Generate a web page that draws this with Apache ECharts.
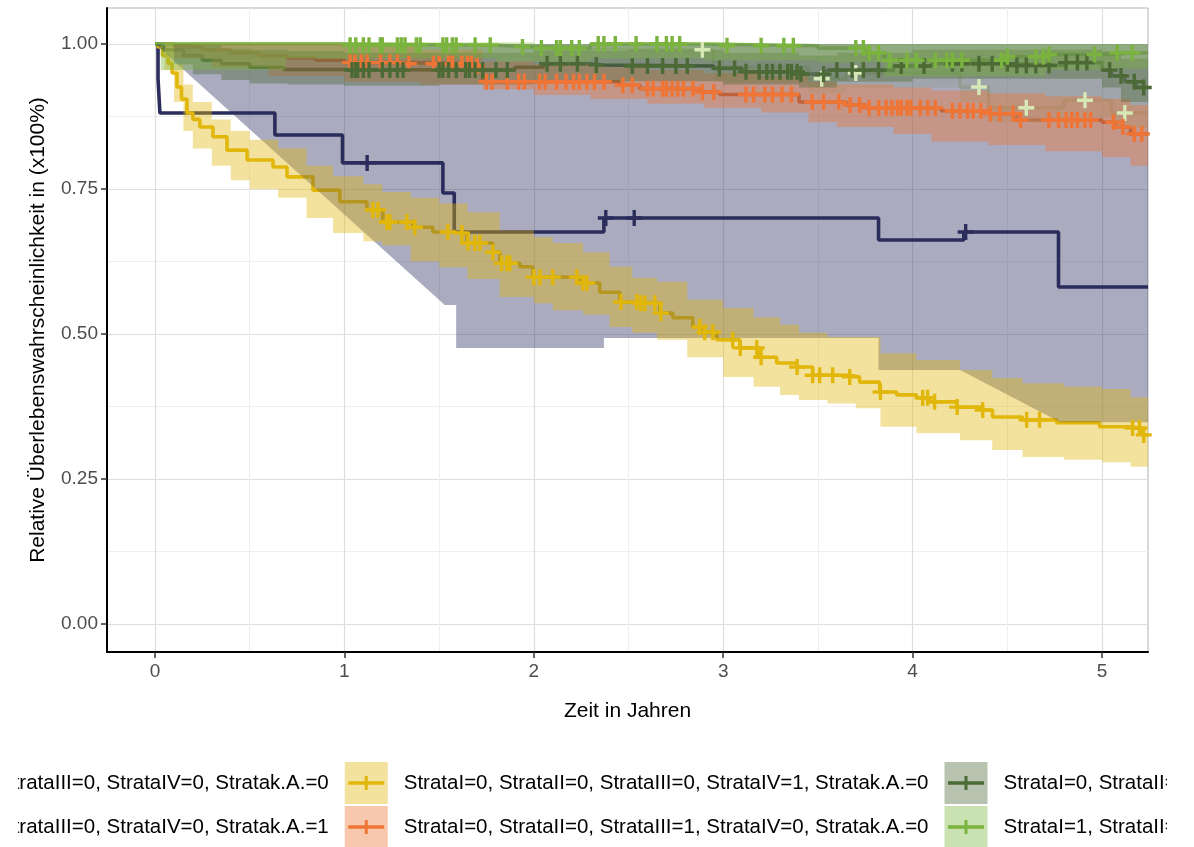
<!DOCTYPE html>
<html>
<head>
<meta charset="utf-8">
<script src="https://cdn.jsdelivr.net/npm/echarts/dist/echarts.min.js"></script>
<style>
  html, body { margin: 0; padding: 0; background: #ffffff; }
  #chart { width: 1194px; height: 847px; }
</style>
</head>
<body>
<div id="chart"></div>
<script>
// ---------- Stratum labels ----------
const strataNames = [
  'StrataI=0, StrataII=0, StrataIII=0, StrataIV=0, Stratak.A.=0',
  'StrataI=0, StrataII=0, StrataIII=0, StrataIV=0, Stratak.A.=1',
  'StrataI=0, StrataII=0, StrataIII=0, StrataIV=1, Stratak.A.=0',
  'StrataI=0, StrataII=0, StrataIII=1, StrataIV=0, Stratak.A.=0',
  'StrataI=0, StrataII=1, StrataIII=0, StrataIV=0, Stratak.A.=0',
  'StrataI=1, StrataII=0, StrataIII=0, StrataIV=0, Stratak.A.=0'
];
const strataColors = ['#d5e8b6', '#2b2d5c', '#e2b70c', '#ee7535', '#4c6a35', '#7bb33f'];

// ---------- Axis ticks ----------
const xTickValues = [0, 1, 2, 3, 4, 5];
const yTickLabels = ['0.00', '0.25', '0.50', '0.75', '1.00'];
const T_END = 5.2426;

// ---------- Survival curves (time in years, survival probability) ----------
const paleT = [0, 2.0, 2.95, 3.45, 3.65, 4.25, 4.4, 4.8, 5.05, T_END];
const paleS = [1.0, 0.99, 0.96, 0.94, 0.95, 0.926, 0.89, 0.903, 0.881, 0.881];
const paleCensor = [2.89, 3.52, 3.70, 4.35, 4.60, 4.91, 5.12];

const navyT = [0, 0.016, 0.026, 0.633, 0.99, 1.52, 1.58, 2.37, 3.82, 4.27, 4.77, T_END];
const navyS = [1.0, 0.94, 0.881, 0.843, 0.795, 0.743, 0.676, 0.70, 0.662, 0.676, 0.581, 0.581];
const navyCensor = [1.12, 2.38, 2.53, 4.28];

const yellowT = [0, 0.016, 0.04, 0.069, 0.09, 0.116, 0.14, 0.169, 0.2, 0.237, 0.306, 0.380, 0.486, 0.623, 0.697,
  0.834, 0.976, 1.119, 1.203, 1.361, 1.467, 1.557, 1.646, 1.784, 1.821, 1.926, 1.995, 2.243, 2.348, 2.454,
  2.559, 2.665, 2.734, 2.839, 2.892, 2.966, 3.087, 3.193, 3.282, 3.388, 3.472, 3.668, 3.720, 3.826, 3.916,
  4.021, 4.090, 4.232, 4.369, 4.422, 4.580, 4.760, 4.987, 5.145, 5.214, T_END];
const yellowS = [1.0, 0.995, 0.98, 0.967, 0.95, 0.926, 0.905, 0.881, 0.87, 0.857, 0.840, 0.817, 0.800, 0.788, 0.771,
  0.748, 0.728, 0.714, 0.693, 0.684, 0.676, 0.674, 0.657, 0.641, 0.622, 0.616, 0.598, 0.588, 0.572, 0.555,
  0.553, 0.536, 0.528, 0.512, 0.503, 0.490, 0.476, 0.460, 0.450, 0.443, 0.429, 0.426, 0.417, 0.400, 0.395,
  0.390, 0.383, 0.374, 0.369, 0.357, 0.352, 0.347, 0.340, 0.338, 0.326, 0.326];
const yellowCensor = [1.150, 1.177, 1.224, 1.240, 1.330, 1.372, 1.546, 1.620, 1.652, 1.689, 1.715, 1.784,
  1.830, 1.858, 1.873, 2.000, 2.032, 2.100, 2.227, 2.259, 2.280, 2.460, 2.544, 2.565, 2.586, 2.639, 2.670,
  2.876, 2.902, 2.945, 3.050, 3.090, 3.177, 3.200, 3.390, 3.472, 3.509, 3.578, 3.668, 3.830, 4.053, 4.079,
  4.116, 4.235, 4.370, 4.602, 4.670, 5.161, 5.198, 5.220];

const orangeT = [0, 0.1, 0.25, 0.4, 0.55, 0.7, 0.85, 1.0, 1.3, 1.7, 1.73, 2.45, 2.56, 2.88, 2.98, 3.4, 3.65,
  3.75, 4.15, 4.4, 4.55, 5.0, 5.07, 5.15, T_END];
const orangeS = [1.0, 0.995, 0.99, 0.985, 0.98, 0.976, 0.972, 0.968, 0.966, 0.962, 0.935, 0.929, 0.923, 0.917,
  0.913, 0.9, 0.895, 0.89, 0.885, 0.88, 0.869, 0.865, 0.857, 0.845, 0.845];
const orangeCensor = [1.03, 1.055, 1.09, 1.12, 1.19, 1.24, 1.28, 1.34, 1.47, 1.5, 1.55, 1.57, 1.62, 1.65, 1.67,
  1.70, 1.75, 1.78, 1.86, 1.92, 1.95, 2.03, 2.06, 2.12, 2.17, 2.21, 2.24, 2.28, 2.32, 2.37, 2.47, 2.52, 2.60,
  2.63, 2.68, 2.70, 2.73, 2.76, 2.79, 2.84, 2.89, 2.95, 3.12, 3.16, 3.22, 3.26, 3.31, 3.36, 3.47, 3.53, 3.61,
  3.67, 3.72, 3.77, 3.82, 3.86, 3.89, 3.92, 3.94, 3.97, 3.99, 4.04, 4.08, 4.12, 4.21, 4.25, 4.29, 4.32, 4.36,
  4.41, 4.46, 4.53, 4.57, 4.72, 4.77, 4.81, 4.84, 4.87, 4.91, 4.94, 5.06, 5.11, 5.17, 5.21];

const darkGreenT = [0, 0.05, 0.15, 0.25, 0.35, 0.5, 0.68, 1.0, 1.9, 2.05, 2.3, 2.35, 2.95, 3.1, 3.4, 3.55, 3.9,
  4.1, 4.55, 4.8, 5.0, 5.05, 5.12, 5.18, T_END];
const darkGreenS = [1.0, 0.99, 0.98, 0.972, 0.966, 0.96, 0.956, 0.955, 0.96, 0.966, 0.964, 0.962, 0.958, 0.952,
  0.948, 0.955, 0.962, 0.966, 0.963, 0.968, 0.955, 0.945, 0.935, 0.925, 0.925];
const darkGreenCensor = [1.04, 1.06, 1.07, 1.10, 1.13, 1.20, 1.24, 1.28, 1.31, 1.50, 1.52, 1.55, 1.59, 1.64,
  1.66, 1.69, 1.73, 1.80, 1.86, 2.07, 2.14, 2.23, 2.33, 2.52, 2.60, 2.68, 2.75, 2.81, 2.98, 3.06, 3.12, 3.19,
  3.23, 3.26, 3.30, 3.34, 3.36, 3.39, 3.41, 3.53, 3.60, 3.68, 3.74, 3.82, 3.94, 4.06, 4.21, 4.26, 4.35, 4.42,
  4.50, 4.55, 4.60, 4.65, 4.72, 4.81, 4.87, 4.92, 5.04, 5.10, 5.17, 5.22];

const lightGreenT = [0, 1.0, 1.8, 2.0, 2.3, 2.9, 3.5, 3.75, 3.85, 4.35, 4.5, 4.7, 5.0, T_END];
const lightGreenS = [1.0, 0.998, 0.995, 0.993, 1.0, 0.997, 0.993, 0.985, 0.972, 0.972, 0.978, 0.982, 0.985, 0.985];
const lightGreenCensor = [1.03, 1.06, 1.10, 1.13, 1.19, 1.20, 1.28, 1.30, 1.32, 1.38, 1.40, 1.52, 1.54, 1.57,
  1.59, 1.69, 1.77, 1.94, 2.04, 2.12, 2.14, 2.20, 2.24, 2.34, 2.37, 2.43, 2.54, 2.65, 2.70, 2.73, 2.77, 3.02,
  3.20, 3.32, 3.37, 3.70, 3.74, 3.77, 3.82, 3.88, 3.97, 4.02, 4.12, 4.18, 4.21, 4.26, 4.47, 4.50, 4.65, 4.69,
  4.72, 4.96, 5.08, 5.16];

// ---------- Confidence bands (time, lower, upper) ----------
const paleBandT = [0, 0.05, 2.0, 2.95, 3.45, 3.65, 4.25, 4.4, 4.8, 5.05, T_END];
const paleLo = [1.0, 0.975, 0.965, 0.935, 0.915, 0.925, 0.9, 0.865, 0.875, 0.855, 0.855];
const paleHi = [1, 1, 1, 1, 1, 1, 1, 1, 1, 1, 1];

// drawn with straight edges between vertices
const navyBandT = [0, 1.53, 1.59, 1.59, 2.37, 2.37, 3.82, 3.82, 4.25, 4.78, T_END];
const navyLo = [1.0, 0.55, 0.55, 0.476, 0.476, 0.493, 0.493, 0.438, 0.438, 0.348, 0.348];
const navyHi = [1, 1, 1, 1, 1, 1, 1, 1, 1, 1, 1];

const yellowBandT = [0, 0.05, 0.1, 0.15, 0.2, 0.3, 0.4, 0.5, 0.65, 0.8, 0.94, 1.1, 1.2, 1.35, 1.5, 1.65, 1.82,
  2.0, 2.1, 2.26, 2.4, 2.52, 2.65, 2.81, 3.0, 3.16, 3.3, 3.4, 3.55, 3.7, 3.83, 4.02, 4.25, 4.42, 4.58, 4.8,
  5.0, 5.15, T_END];
const yellowLo = [1.0, 0.955, 0.9, 0.85, 0.82, 0.79, 0.765, 0.75, 0.735, 0.70, 0.674, 0.66, 0.653, 0.625,
  0.615, 0.595, 0.564, 0.553, 0.541, 0.533, 0.512, 0.502, 0.49, 0.46, 0.426, 0.409, 0.395, 0.386, 0.38,
  0.372, 0.34, 0.329, 0.317, 0.30, 0.288, 0.283, 0.279, 0.271, 0.266];
const yellowHi = [1.0, 1.0, 0.965, 0.93, 0.9, 0.87, 0.85, 0.835, 0.82, 0.79, 0.772, 0.758, 0.745, 0.735,
  0.725, 0.71, 0.679, 0.667, 0.657, 0.641, 0.616, 0.597, 0.59, 0.559, 0.545, 0.529, 0.516, 0.502, 0.495,
  0.495, 0.467, 0.455, 0.438, 0.424, 0.415, 0.409, 0.405, 0.391, 0.391];

const orangeBandT = [0, 0.1, 0.3, 0.6, 1.0, 1.4, 1.73, 2.0, 2.3, 2.6, 2.9, 3.2, 3.45, 3.6, 3.9, 4.1, 4.4, 4.7,
  5.0, 5.15, T_END];
const orangeLo = [1.0, 0.975, 0.96, 0.945, 0.935, 0.93, 0.922, 0.912, 0.905, 0.897, 0.89, 0.882, 0.865, 0.857,
  0.845, 0.832, 0.826, 0.815, 0.805, 0.79, 0.786];
const orangeHi = [1.0, 1.0, 1.0, 1.0, 0.995, 0.99, 0.97, 0.965, 0.96, 0.955, 0.95, 0.945, 0.935, 0.93, 0.925,
  0.92, 0.915, 0.91, 0.905, 0.895, 0.895];

const darkGreenBandT = [0, 0.1, 0.2, 0.35, 0.5, 0.7, 1.0, 1.5, 2.0, 2.5, 3.0, 3.4, 3.6, 4.0, 4.5, 5.0, 5.1, T_END];
const darkGreenLo = [1.0, 0.965, 0.948, 0.938, 0.932, 0.93, 0.928, 0.93, 0.935, 0.936, 0.93, 0.925, 0.935,
  0.94, 0.94, 0.925, 0.9, 0.885];
const darkGreenHi = [1, 1, 0.998, 0.992, 0.99, 0.988, 0.985, 0.985, 0.988, 0.99, 0.985, 0.98, 0.985, 0.99,
  0.99, 0.988, 0.975, 0.965];

const lightGreenBandT = [0, 0.03, 0.69, 1.0, 1.8, 2.3, 2.9, 3.5, 3.85, 4.35, 4.7, 5.0, T_END];
const lightGreenLo = [1.0, 0.955, 0.975, 0.975, 0.97, 0.975, 0.972, 0.968, 0.945, 0.945, 0.955, 0.958, 0.958];
const lightGreenHi = [1, 1, 1, 1, 1, 1, 1, 1, 1, 1, 1, 1, 1];

// ---------- Assemble strata ----------
const strata = [
  { t: paleT, s: paleS, censor: paleCensor, band: { t: paleBandT, lo: paleLo, hi: paleHi, step: true } },
  { t: navyT, s: navyS, censor: navyCensor, band: { t: navyBandT, lo: navyLo, hi: navyHi, step: false } },
  { t: yellowT, s: yellowS, censor: yellowCensor, band: { t: yellowBandT, lo: yellowLo, hi: yellowHi, step: true } },
  { t: orangeT, s: orangeS, censor: orangeCensor, band: { t: orangeBandT, lo: orangeLo, hi: orangeHi, step: true } },
  { t: darkGreenT, s: darkGreenS, censor: darkGreenCensor, band: { t: darkGreenBandT, lo: darkGreenLo, hi: darkGreenHi, step: true } },
  { t: lightGreenT, s: lightGreenS, censor: lightGreenCensor, band: { t: lightGreenBandT, lo: lightGreenLo, hi: lightGreenHi, step: true } }
].map((d, i) => Object.assign(d, { name: strataNames[i], color: strataColors[i] }));

function withAlpha(hex, a) {
  const n = parseInt(hex.slice(1), 16);
  return 'rgba(' + ((n >> 16) & 255) + ',' + ((n >> 8) & 255) + ',' + (n & 255) + ',' + a + ')';
}

// value of a right-continuous step curve at time t
function stepValue(T, S, t) {
  let v = S[0];
  for (let i = 0; i < T.length; i++) { if (T[i] <= t) v = S[i]; else break; }
  return v;
}

const FONT = '"Liberation Sans", Arial, Helvetica, sans-serif';
const BAND_ALPHA = 0.4;
const PLUS = 'path://M0,6.3H16V9.7H0Z M6.3,0H9.7V16H6.3Z';
// key glyph: a horizontal line with a censoring tick, in a 43x42 box
const KEY_GLYPH = 'path://M0,0h0.01v0.01z M43,42h-0.01v-0.01z M3.5,19.3h36v3.4h-36z M20,14h3v14h-3z';

const series = [];
// survival step lines (beneath the bands)
strata.forEach(st => {
  series.push({
    type: 'line', name: st.name, xAxisIndex: 0, yAxisIndex: 0, z: 2,
    step: 'end', symbol: 'none', clip: true, animation: false,
    data: st.t.map((t, i) => [t, st.s[i]]),
    lineStyle: { color: st.color, width: 3.6 },
    itemStyle: { color: st.color }
  });
});
// confidence bands as single polygons
strata.forEach(st => {
  const b = st.band;
  series.push({
    type: 'custom', name: st.name, xAxisIndex: 0, yAxisIndex: 0, z: 3, clip: true, animation: false,
    silent: true,
    data: b.t.map((t, i) => [t, b.lo[i], b.hi[i]]),
    encode: { x: 0, y: [1, 2] },
    renderItem: function (params, api) {
      if (params.dataIndexInside !== 0) return null;
      const n = params.dataInsideLength;
      const up = [], low = [];
      for (let i = 0; i < n; i++) {
        const t = api.value(0, i), lo = api.value(1, i), hi = api.value(2, i);
        up.push(api.coord([t, hi]));
        low.push(api.coord([t, lo]));
        if (b.step && i < n - 1) {
          const tn = api.value(0, i + 1);
          up.push(api.coord([tn, hi]));
          low.push(api.coord([tn, lo]));
        }
      }
      return {
        type: 'polygon',
        shape: { points: up.concat(low.reverse()) },
        style: { fill: withAlpha(st.color, BAND_ALPHA), stroke: null }
      };
    }
  });
});
// censoring marks
strata.forEach(st => {
  series.push({
    type: 'scatter', name: st.name, xAxisIndex: 0, yAxisIndex: 0, z: 4, animation: false,
    symbol: PLUS, symbolSize: 16,
    data: st.censor.map(t => [t, stepValue(st.t, st.s, t)]),
    itemStyle: { color: st.color, opacity: 1 }
  });
});

// legend: two rows, filled squares underneath and line glyphs on top
const rowOrder = [[0, 2, 4], [1, 3, 5]];
const rowTops = [762, 806];
const legendBase = {
  left: -255, width: 1900, orient: 'horizontal', padding: 0,
  itemWidth: 43, itemHeight: 42, itemGap: 16,
  selectedMode: false
};
const legends = [];
rowOrder.forEach((row, r) => {
  legends.push(Object.assign({}, legendBase, {
    top: rowTops[r], z: 5,
    textStyle: { fontFamily: FONT, fontSize: 20.5, color: '#000000', padding: [0, 0, 0, 11] },
    data: row.map(i => ({ name: strata[i].name, icon: 'rect',
      itemStyle: { color: withAlpha(strata[i].color, BAND_ALPHA), borderWidth: 0 } }))
  }));
  legends.push(Object.assign({}, legendBase, {
    top: rowTops[r], z: 6,
    textStyle: { fontFamily: FONT, fontSize: 20.5, color: 'rgba(0,0,0,0)', padding: [0, 0, 0, 11] },
    data: row.map(i => ({ name: strata[i].name, icon: KEY_GLYPH,
      itemStyle: { color: strata[i].color, borderWidth: 0 } }))
  }));
});

const option = {
  animation: false,
  backgroundColor: '#ffffff',
  textStyle: { fontFamily: FONT },
  grid: [
    { left: 107, right: 46, top: 8, bottom: 195, show: true, borderColor: '#b3b3b3', borderWidth: 1 },
    { left: 107, right: 46, top: 44, bottom: 223 },
    { left: 155, right: 92, top: 8, bottom: 195 }
  ],
  xAxis: [
    {
      gridIndex: 0, type: 'value', min: -0.2534, max: T_END,
      axisLine: { show: true, onZero: false, lineStyle: { color: '#000000', width: 2 } },
      axisTick: { show: false }, axisLabel: { show: false }, splitLine: { show: false },
      name: 'Zeit in Jahren', nameLocation: 'middle', nameGap: 49,
      nameTextStyle: { fontFamily: FONT, fontSize: 21, color: '#000000' }
    },
    { gridIndex: 1, type: 'value', min: 0, max: 1, show: false },
    {
      gridIndex: 2, type: 'value', min: xTickValues[0], max: xTickValues[xTickValues.length - 1], interval: 1,
      axisLine: { show: false, onZero: false },
      axisTick: { show: true, length: 6, lineStyle: { color: '#333333', width: 1.5 } },
      axisLabel: { fontFamily: FONT, fontSize: 19, color: '#4d4d4d', margin: 10 },
      splitLine: { show: true, lineStyle: { color: '#dedede', width: 1.2 } },
      minorTick: { show: false, splitNumber: 2 },
      minorSplitLine: { show: true, lineStyle: { color: '#efefef', width: 1 } }
    }
  ],
  yAxis: [
    {
      gridIndex: 0, type: 'value', min: -0.0483, max: 1.0621,
      axisLine: { show: true, onZero: false, lineStyle: { color: '#000000', width: 2 } },
      axisTick: { show: false }, axisLabel: { show: false }, splitLine: { show: false },
      name: 'Relative Überlebenswahrscheinlichkeit in (x100%)', nameLocation: 'middle', nameGap: 58,
      nameTextStyle: { fontFamily: FONT, fontSize: 21, color: '#000000' }
    },
    {
      gridIndex: 1, type: 'value', min: 0, max: 1, interval: 0.25,
      axisLine: { show: false, onZero: false },
      axisTick: { show: true, length: 6, lineStyle: { color: '#333333', width: 1.5 } },
      axisLabel: { fontFamily: FONT, fontSize: 19, color: '#4d4d4d', margin: 9,
        formatter: v => yTickLabels[Math.round(v / 0.25)] },
      splitLine: { show: true, lineStyle: { color: '#dedede', width: 1.2 } },
      minorTick: { show: false, splitNumber: 2 },
      minorSplitLine: { show: true, lineStyle: { color: '#efefef', width: 1 } }
    },
    { gridIndex: 2, type: 'value', min: 0, max: 1, show: false }
  ],
  legend: legends,
  // the legend is wider than the page; its outer ends are cut at the page margins
  graphic: [
    { type: 'rect', left: 0, top: 755, shape: { width: 18, height: 92 }, style: { fill: '#ffffff' }, z: 100, silent: true },
    { type: 'rect', left: 1167, top: 755, shape: { width: 27, height: 92 }, style: { fill: '#ffffff' }, z: 100, silent: true }
  ],
  series: series
};

const chart = echarts.init(document.getElementById('chart'), null, { renderer: 'canvas' });
chart.setOption(option);
</script>
</body>
</html>
